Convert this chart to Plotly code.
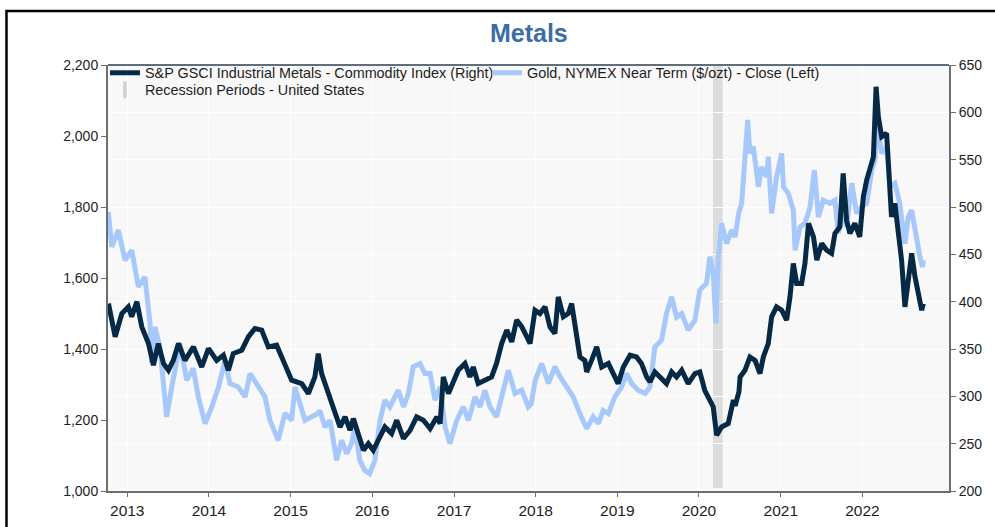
import plotly.graph_objects as go

# Gold, NYMEX near-term close ($/ozt) -- left axis
gold_dates = [
    "2012-10-08", "2012-10-24", "2012-11-22", "2012-12-22", "2013-01-21", "2013-02-20",
    "2013-03-21", "2013-04-13", "2013-04-20", "2013-05-05", "2013-05-27", "2013-06-26",
    "2013-07-19", "2013-08-25", "2013-09-24", "2013-10-23", "2013-11-15", "2013-12-15",
    "2014-01-14", "2014-02-13", "2014-03-14", "2014-04-05", "2014-05-12", "2014-06-12",
    "2014-07-04", "2014-08-10", "2014-09-09", "2014-10-01", "2014-11-07", "2014-12-07",
    "2015-01-06", "2015-01-21", "2015-03-07", "2015-04-06", "2015-05-05", "2015-05-12",
    "2015-06-04", "2015-06-27", "2015-07-26", "2015-08-18", "2015-09-09", "2015-10-01",
    "2015-10-16", "2015-11-07", "2015-11-29", "2015-12-21", "2016-01-13", "2016-02-05",
    "2016-02-27", "2016-03-20", "2016-04-27", "2016-05-20", "2016-06-11", "2016-07-03",
    "2016-08-02", "2016-08-24", "2016-09-16", "2016-10-08", "2016-10-31", "2016-11-22",
    "2016-12-14", "2017-01-13", "2017-02-12", "2017-03-06", "2017-04-05", "2017-04-27",
    "2017-05-19", "2017-06-11", "2017-07-10", "2017-08-02", "2017-09-01", "2017-10-01",
    "2017-10-31", "2017-11-29", "2017-12-12", "2017-12-30", "2018-01-28", "2018-02-27",
    "2018-03-28", "2018-04-20", "2018-05-19", "2018-06-18", "2018-07-18", "2018-08-17",
    "2018-09-15", "2018-10-08", "2018-10-30", "2018-11-22", "2018-12-21", "2019-01-20",
    "2019-02-12", "2019-03-06", "2019-04-04", "2019-05-05", "2019-05-27", "2019-06-18",
    "2019-07-18", "2019-08-09", "2019-09-01", "2019-09-23", "2019-10-16", "2019-11-14",
    "2019-12-14", "2020-01-05", "2020-02-04", "2020-02-19", "2020-03-05", "2020-03-17",
    "2020-03-27", "2020-04-11", "2020-05-04", "2020-05-26", "2020-06-11", "2020-06-26",
    "2020-07-10", "2020-07-25", "2020-08-06", "2020-08-16", "2020-08-31", "2020-09-23",
    "2020-10-07", "2020-10-30", "2020-11-06", "2020-11-21", "2020-12-13", "2021-01-05",
    "2021-01-13", "2021-02-04", "2021-02-26", "2021-03-06", "2021-03-28", "2021-04-19",
    "2021-05-12", "2021-05-31", "2021-06-18", "2021-07-10", "2021-08-09", "2021-08-31",
    "2021-09-15", "2021-10-07", "2021-10-22", "2021-11-14", "2021-12-06", "2021-12-28",
    "2022-01-20", "2022-02-12", "2022-02-26", "2022-03-08", "2022-03-28", "2022-04-19",
    "2022-05-04", "2022-05-26", "2022-06-17", "2022-07-10", "2022-07-25", "2022-08-09",
    "2022-08-31", "2022-09-15", "2022-09-27", "2022-09-30",
]
gold_values = [
    1786, 1688, 1735, 1650, 1678, 1575,
    1603, 1472, 1360, 1462, 1406, 1209,
    1293, 1415, 1312, 1345, 1265, 1190,
    1237, 1293, 1368, 1303, 1293, 1265,
    1331, 1293, 1265, 1199, 1143, 1219,
    1199, 1293, 1199, 1209, 1219, 1227,
    1180, 1199, 1086, 1143, 1105, 1134,
    1180, 1086, 1058, 1049, 1086, 1199,
    1256, 1237, 1284, 1237, 1275, 1350,
    1359, 1331, 1331, 1256, 1293, 1180,
    1134, 1199, 1237, 1199, 1265, 1237,
    1284, 1237, 1209, 1265, 1340, 1275,
    1284, 1237, 1245, 1312, 1359, 1303,
    1350, 1322, 1293, 1265, 1218, 1176,
    1209, 1190, 1227, 1218, 1265, 1293,
    1331, 1303, 1284, 1275, 1293, 1406,
    1425, 1500, 1547, 1490, 1500, 1453,
    1481, 1566, 1585, 1660, 1613, 1472,
    1650, 1754, 1697, 1735, 1716, 1780,
    1810, 1923, 2045, 1951, 1970, 1857,
    1913, 1885, 1942, 1782, 1885, 1951,
    1857, 1838, 1791, 1678, 1744, 1754,
    1801, 1904, 1772, 1819, 1810, 1819,
    1726, 1782, 1744, 1867, 1782, 1801,
    1810, 1904, 1932, 2040, 1951, 1970,
    1857, 1867, 1810, 1697, 1772, 1791,
    1707, 1660, 1631, 1650,
]

# S&P GSCI Industrial Metals commodity index -- right axis
metals_dates = [
    "2012-10-09", "2012-11-08", "2012-12-08", "2013-01-06", "2013-01-21", "2013-02-13",
    "2013-03-07", "2013-04-06", "2013-04-28", "2013-05-20", "2013-06-12", "2013-07-04",
    "2013-07-26", "2013-08-18", "2013-09-16", "2013-10-24", "2013-11-30", "2013-12-30",
    "2014-02-05", "2014-03-07", "2014-03-29", "2014-04-20", "2014-05-28", "2014-06-27",
    "2014-07-26", "2014-08-25", "2014-09-24", "2014-10-31", "2014-11-29", "2015-01-06",
    "2015-02-20", "2015-03-22", "2015-04-20", "2015-05-05", "2015-05-20", "2015-06-04",
    "2015-06-27", "2015-07-19", "2015-08-10", "2015-09-02", "2015-09-24", "2015-10-09",
    "2015-10-31", "2015-11-23", "2015-12-15", "2016-01-06", "2016-01-28", "2016-02-27",
    "2016-03-28", "2016-04-20", "2016-05-20", "2016-06-19", "2016-07-18", "2016-08-17",
    "2016-09-16", "2016-10-16", "2016-10-31", "2016-11-14", "2016-12-07", "2016-12-29",
    "2017-01-20", "2017-02-19", "2017-03-13", "2017-03-28", "2017-04-19", "2017-05-19",
    "2017-06-18", "2017-07-10", "2017-08-02", "2017-08-25", "2017-09-16", "2017-10-08",
    "2017-10-31", "2017-11-22", "2017-12-07", "2017-12-29", "2018-01-20", "2018-02-12",
    "2018-03-06", "2018-03-28", "2018-04-12", "2018-05-05", "2018-05-27", "2018-06-11",
    "2018-06-26", "2018-07-18", "2018-08-09", "2018-08-17", "2018-09-08", "2018-10-01",
    "2018-10-23", "2018-11-22", "2018-12-14", "2019-01-05", "2019-01-28", "2019-02-27",
    "2019-03-28", "2019-04-19", "2019-05-12", "2019-05-27", "2019-06-18", "2019-07-18",
    "2019-08-09", "2019-09-01", "2019-09-23", "2019-10-16", "2019-11-14", "2019-12-14",
    "2020-01-05", "2020-01-27", "2020-02-19", "2020-03-05", "2020-03-20", "2020-04-11",
    "2020-05-11", "2020-06-03", "2020-06-11", "2020-06-28", "2020-07-03", "2020-07-25",
    "2020-08-16", "2020-09-08", "2020-09-30", "2020-10-15", "2020-11-06", "2020-11-21",
    "2020-12-13", "2021-01-05", "2021-01-27", "2021-02-11", "2021-02-26", "2021-03-13",
    "2021-04-04", "2021-04-19", "2021-05-05", "2021-05-27", "2021-06-11", "2021-07-03",
    "2021-07-25", "2021-08-16", "2021-08-31", "2021-09-22", "2021-10-07", "2021-10-22",
    "2021-11-06", "2021-11-28", "2021-12-20", "2022-01-05", "2022-01-20", "2022-02-04",
    "2022-02-19", "2022-03-03", "2022-03-13", "2022-03-28", "2022-04-19", "2022-04-27",
    "2022-05-11", "2022-05-26", "2022-06-10", "2022-06-25", "2022-07-10", "2022-07-25",
    "2022-08-09", "2022-08-24", "2022-09-08", "2022-09-23", "2022-09-30",
]
metals_values = [
    398, 363, 387.5, 394.5, 384, 400,
    373.4, 355.8, 332.9, 355.8, 334.7, 327.6,
    338, 355.8, 338, 352.2, 331, 350.5,
    338, 343.5, 327.6, 345.2, 348.7, 363,
    371.7, 370, 352.2, 354, 338, 317,
    313.5, 303, 320.5, 345.2, 324, 313.5,
    296, 282, 267.6, 278.2, 264.2, 276.5,
    260.7, 243, 250, 243, 253.6, 267.6,
    260.7, 274.7, 255.4, 264.2, 278.2, 274.7,
    266, 278.2, 271.2, 320.5, 303, 317,
    327.6, 334.7, 320.5, 331, 313.5, 317,
    320.5, 334.7, 355.8, 370, 357.5, 380.5,
    373.4, 363, 355.8, 391, 387.5, 394.5,
    373.4, 366.4, 405, 384, 387.5, 398,
    373.4, 341.6, 338, 325.8, 338, 352.2,
    331, 334.7, 324, 313.5, 331, 343.5,
    341.6, 334.7, 320.5, 315.2, 325.8, 318.8,
    313.5, 325.8, 320.5, 327.6, 313.5, 324,
    325.8, 306.4, 296, 288.8, 258.9, 267.6,
    271.2, 296, 290, 305, 320.5, 327.6,
    341.6, 338, 324, 341.6, 355.8, 384,
    394.5, 391, 380.4, 405, 440.4, 419.2,
    419.2, 440.4, 482.7, 468.5, 443.9, 461.5,
    454.4, 451, 472, 479, 535.5, 486,
    472, 482.7, 468.5, 510.8, 528.4, 539,
    553, 627, 595.4, 574.2, 577.8, 546,
    489.6, 503.8, 475.6, 443.9, 394.5, 419.2,
    451, 426.2, 408.6, 391, 398,
]

# US recession period shown as a shaded band
recession_start = "2020-03-04"
recession_end = "2020-04-16"

# year labels along the date axis
year_ticks = ["2013", "2014", "2015", "2016", "2017", "2018", "2019", "2020", "2021", "2022"]

metals_name = "S&P GSCI Industrial Metals - Commodity Index (Right)"
gold_name = "Gold, NYMEX Near Term ($/ozt) - Close (Left)"
recession_name = "Recession Periods - United States"

NAVY = "#062a45"
LIGHT_BLUE = "#a6c8fb"
BAND_GREY = "#dcdcdc"
AXIS_GREY = "#6e6e6e"
TEXT = "#1e1e1e"
FONT = "Liberation Sans, Arial, sans-serif"

fig = go.Figure()

fig.add_trace(go.Scatter(
    x=metals_dates, y=metals_values, name=metals_name, yaxis="y2",
    mode="lines", line=dict(color=NAVY, width=5), legend="legend",
))
fig.add_trace(go.Scatter(
    x=gold_dates, y=gold_values, name=gold_name, yaxis="y",
    mode="lines", line=dict(color=LIGHT_BLUE, width=5), legend="legend",
))
# legend-only entry for the recession band
fig.add_trace(go.Scatter(
    x=[None], y=[None], name=recession_name, mode="markers", legend="legend2",
    marker=dict(symbol="line-ns", size=12, line=dict(width=3.5, color="#d0d0d0")),
))

fig.add_shape(
    type="rect", xref="x", yref="paper",
    x0=recession_start, x1=recession_end, y0=0.007, y1=0.997,
    fillcolor=BAND_GREY, line=dict(width=0), layer="below",
)
# dark top edge of the plotting area
fig.add_shape(
    type="line", xref="paper", yref="paper", x0=0, x1=1, y0=1, y1=1,
    line=dict(color="#2c3e50", width=1.5),
)
# outer page frame
fig.add_shape(
    type="rect", xref="paper", yref="paper",
    x0=-0.1207, x1=1.3, y0=-0.4, y1=1.1268,
    line=dict(color="#000000", width=2.5), fillcolor="rgba(0,0,0,0)",
)

legend_style = dict(
    orientation="h", xanchor="left", yanchor="top",
    bgcolor="rgba(0,0,0,0)", font=dict(family=FONT, size=14.4, color=TEXT),
    entrywidthmode="pixels", itemwidth=30, traceorder="normal",
)

fig.update_layout(
    width=995, height=527,
    margin=dict(l=108, r=46, t=65, b=36, autoexpand=False),
    paper_bgcolor="#ffffff",
    plot_bgcolor="#f8f8f8",
    font=dict(family=FONT, size=14, color=TEXT),
    title=dict(
        text="<b>Metals</b>", x=0.5315, xanchor="center", y=0.937, yanchor="middle",
        font=dict(family=FONT, size=25, color="#3b6ea5"),
    ),
    showlegend=True,
    legend=dict(x=-0.0036, y=1.019, entrywidth=337, **legend_style),
    legend2=dict(x=-0.0036, y=0.979, entrywidth=337, **legend_style),
    xaxis=dict(
        type="date", range=["2012-10-07", "2023-01-23"], automargin=False,
        tickvals=[f"{y}-01-01" for y in year_ticks], ticktext=year_ticks,
        showgrid=True, gridcolor="#ffffff", gridwidth=1.2,
        ticks="outside", ticklen=4, tickcolor=AXIS_GREY,
        showline=True, linecolor=AXIS_GREY, linewidth=2,
        zeroline=False, tickfont=dict(size=15.5),
    ),
    yaxis=dict(
        range=[1000, 2200], dtick=200, tickformat=",", automargin=False,
        showgrid=False, zeroline=False,
        ticks="outside", ticklen=5, tickcolor=AXIS_GREY,
        showline=True, linecolor=AXIS_GREY, linewidth=2,
        tickfont=dict(size=14),
    ),
    yaxis2=dict(
        range=[200, 650], dtick=50, overlaying="y", side="right", automargin=False,
        showgrid=True, gridcolor="#ffffff", gridwidth=1.2, zeroline=False,
        ticks="outside", ticklen=5, tickcolor=AXIS_GREY,
        showline=True, linecolor=AXIS_GREY, linewidth=2,
        tickfont=dict(size=14),
    ),
)

fig.write_html("out.html")
